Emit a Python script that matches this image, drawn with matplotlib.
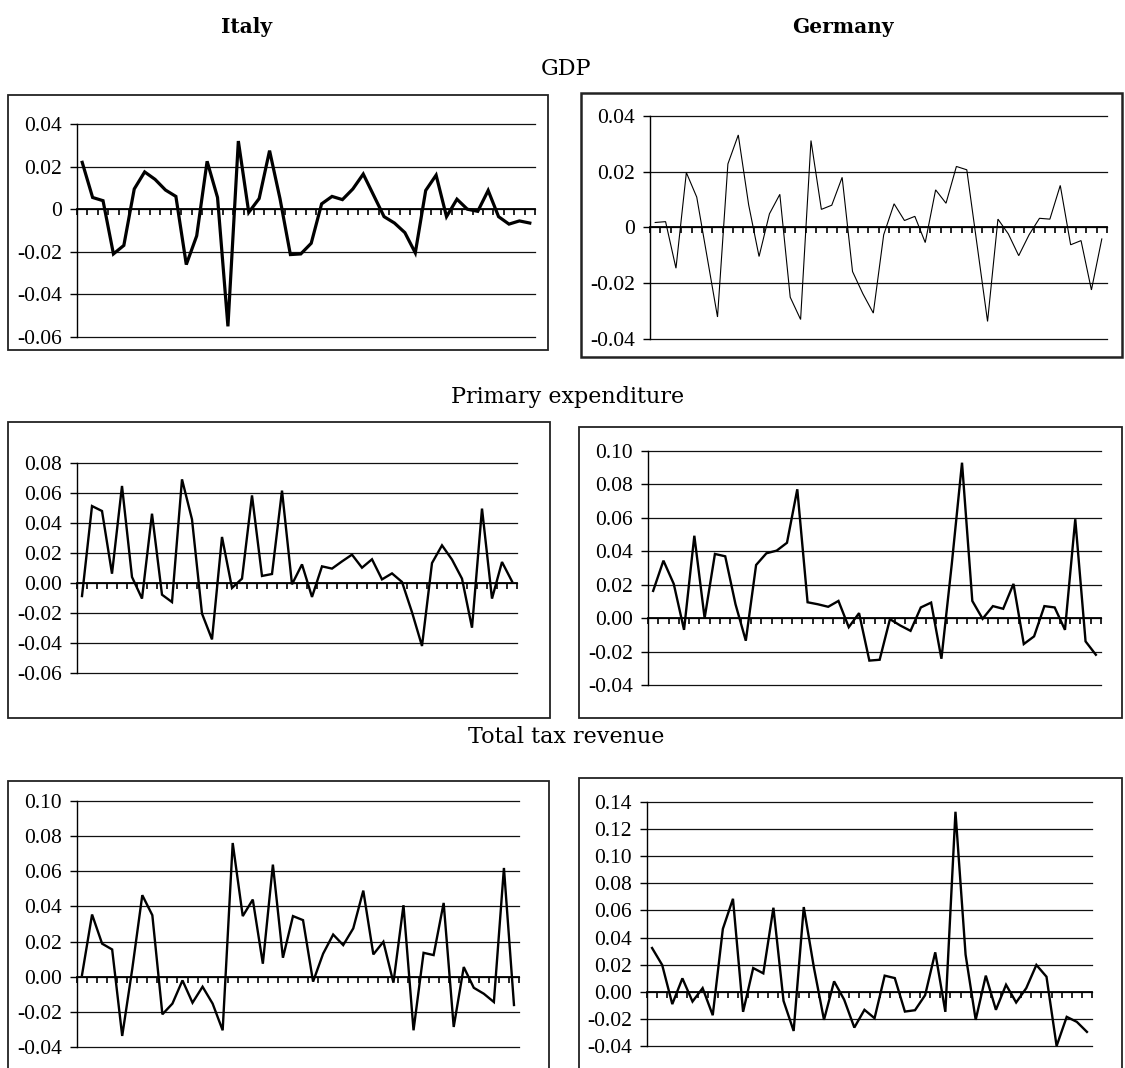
import numpy as np
import matplotlib
matplotlib.use("Agg")
import matplotlib.pyplot as plt
from matplotlib.patches import Rectangle
from matplotlib.ticker import FuncFormatter, MultipleLocator

# ── data (44 annual observations per series) ───────────────────────────────

italy_gdp = [0.022, 0.0055, 0.004, -0.021, -0.017, 0.0095, 0.0175, 0.014, 0.009, 0.006,
             -0.026, -0.0125, 0.0225, 0.0055, -0.055, 0.032, -0.0015, 0.005, 0.0275, 0.005,
             -0.0213, -0.021, -0.016, 0.0025, 0.006, 0.0045, 0.0095, 0.0165, 0.0065, -0.0035,
             -0.0065, -0.011, -0.0205, 0.0088, 0.016, -0.0035, 0.0047, 0.0, -0.001, 0.0088,
             -0.0035, -0.007, -0.0055, -0.0065]

germany_gdp = [0.0018, 0.0021, -0.0146, 0.0197, 0.0109, -0.0106, -0.0321, 0.0228, 0.0332, 0.0081,
               -0.0104, 0.0049, 0.0119, -0.025, -0.033, 0.0312, 0.0065, 0.008, 0.018, -0.0158,
               -0.0238, -0.0307, -0.0026, 0.0085, 0.0025, 0.004, -0.0054, 0.0135, 0.0087, 0.0219,
               0.0207, -0.0065, -0.0337, 0.003, -0.0023, -0.0101, -0.0026, 0.0033, 0.003, 0.0151,
               -0.0062, -0.0047, -0.0224, -0.0041]

italy_pe = [-0.0087, 0.0513, 0.048, 0.0062, 0.0647, 0.004, -0.0104, 0.0462, -0.0078, -0.0127,
            0.0691, 0.0424, -0.0204, -0.0376, 0.0307, -0.0033, 0.0029, 0.0584, 0.0047, 0.006,
            0.0616, -0.0009, 0.0124, -0.0093, 0.0111, 0.0096, 0.0144, 0.0189, 0.0102, 0.0158,
            0.0024, 0.0064, 0.0007, -0.0195, -0.042, 0.0133, 0.0251, 0.0156, 0.0029, -0.0298,
            0.0496, -0.0104, 0.014, 0.0011]

germany_pe = [0.0163, 0.0344, 0.0205, -0.007, 0.0493, 0.0, 0.0384, 0.037, 0.0083, -0.0135,
              0.0318, 0.0388, 0.0404, 0.0451, 0.0771, 0.0095, 0.0083, 0.0068, 0.0103, -0.0054,
              0.003, -0.0254, -0.0249, -0.0006, -0.0044, -0.0076, 0.0064, 0.0093, -0.0243, 0.032,
              0.093, 0.0103, -0.0004, 0.0072, 0.0056, 0.0205, -0.0155, -0.0109, 0.0072, 0.0064,
              -0.007, 0.0592, -0.0139, -0.0219]

italy_tax = [0.001, 0.0354, 0.0188, 0.0155, -0.0337, 0.0044, 0.0464, 0.035, -0.0214, -0.0153,
             -0.0021, -0.0148, -0.0057, -0.0153, -0.0305, 0.0761, 0.0345, 0.0439, 0.0074, 0.0638,
             0.0108, 0.0345, 0.0322, -0.0028, 0.0131, 0.024, 0.018, 0.0275, 0.049, 0.0127,
             0.0199, -0.0034, 0.0407, -0.0305, 0.0136, 0.0123, 0.042, -0.0286, 0.0055, -0.0063,
             -0.0097, -0.0144, 0.0619, -0.0161]

germany_tax = [0.0323, 0.0198, -0.0091, 0.0099, -0.0072, 0.0027, -0.0173, 0.0464, 0.0686, -0.0148,
               0.0175, 0.0136, 0.062, -0.0067, -0.0289, 0.0625, 0.018, -0.0207, 0.0077, -0.0059,
               -0.0264, -0.0133, -0.0195, 0.0119, 0.0101, -0.0146, -0.0136, -0.0025, 0.0291, -0.0148,
               0.1328, 0.0274, -0.0207, 0.0119, -0.0133, 0.0052, -0.0079, 0.0027, 0.0198, 0.0111,
               -0.04, -0.0185, -0.0222, -0.0296]

countries = ["Italy", "Germany"]
sections = ["GDP", "Primary expenditure", "Total tax revenue"]

# ── layout (pixels) ─────────────────────────────────────────────────────────

W, H = 1125, 1068
fig = plt.figure(figsize=(W / 100, H / 100), dpi=100)
fig.patch.set_facecolor("white")

TICK_FONT = "Liberation Serif"
TITLE_FONT = "DejaVu Serif"


def _fx(x):
    return x / W


def _fy(y):
    return 1 - y / H


def _frame(l, t, r, b, lw=1.3):
    fig.add_artist(Rectangle((_fx(l), _fy(b)), (r - l) / W, (b - t) / H,
                             transform=fig.transFigure, fill=False,
                             edgecolor="#222222", linewidth=lw, clip_on=False))


def _fmt_gdp(v, _=None):
    if abs(v) < 1e-9:
        return "0"
    return f"{v:.2f}"


def _fmt_2(v, _=None):
    if abs(v) < 1e-9:
        return "0.00"
    return f"{v:.2f}"


def _panel(box, values, ylim, fmt, lw):
    l, t, r, b = box
    ax = fig.add_axes([_fx(l), _fy(b), (r - l) / W, (b - t) / H])
    x = np.arange(len(values))
    ax.plot(x, values, color="black", linewidth=lw, solid_joinstyle="miter",
            zorder=3, clip_on=False)
    ax.set_xlim(-0.5, len(values) - 0.5)
    ax.set_ylim(*ylim)
    ax.yaxis.set_major_locator(MultipleLocator(0.02))
    ax.yaxis.set_major_formatter(FuncFormatter(fmt))
    ax.set_xticks(np.arange(len(values) + 1) - 0.5)
    ax.set_xticklabels([])
    ax.grid(axis="y", color="#111111", linewidth=0.9, zorder=1)
    ax.set_axisbelow(True)
    # keep the top/bottom gridlines fully drawn at the axis edges
    for gl in ax.get_ygridlines():
        gl.set_clip_on(False)
    for side in ("top", "right"):
        ax.spines[side].set_visible(False)
    ax.spines["left"].set_linewidth(1.0)
    ax.spines["bottom"].set_position(("data", 0))
    ax.spines["bottom"].set_linewidth(1.3)
    ax.tick_params(axis="y", direction="out", length=5, width=1.0, pad=6,
                   labelsize=15.5)
    ax.tick_params(axis="x", direction="out", length=4.5, width=1.2)
    for lab in ax.get_yticklabels():
        lab.set_fontfamily(TICK_FONT)
    ax.patch.set_alpha(0)
    return ax


# column headers and section titles
fig.text(_fx(247), _fy(27), countries[0], ha="center", va="center",
         fontsize=14.5, fontweight="bold", family=TITLE_FONT)
fig.text(_fx(843), _fy(27), countries[1], ha="center", va="center",
         fontsize=14.5, fontweight="bold", family=TITLE_FONT)
fig.text(_fx(566), _fy(69), sections[0], ha="center", va="center",
         fontsize=16, family=TITLE_FONT)
fig.text(_fx(568), _fy(397), sections[1], ha="center", va="center",
         fontsize=16, family=TITLE_FONT)
fig.text(_fx(566), _fy(737), sections[2], ha="center", va="center",
         fontsize=16, family=TITLE_FONT)

# frames
_frame(8, 95, 548, 350)
_frame(581, 93, 1122, 357, lw=1.8)
_frame(8, 422, 550, 718)
_frame(579, 427, 1122, 718)
_frame(8, 781, 549, 1080)
_frame(579, 778, 1122, 1080)

# panels
_panel((77, 124, 535, 337), italy_gdp, (-0.06, 0.04), _fmt_gdp, 2.3)
_panel((650, 116, 1107, 339), germany_gdp, (-0.04, 0.04), _fmt_gdp, 0.8)
_panel((77, 463, 517, 673), italy_pe, (-0.06, 0.08), _fmt_2, 1.7)
_panel((648, 451, 1101, 685), germany_pe, (-0.04, 0.10), _fmt_2, 1.7)
_panel((77, 801, 519, 1047), italy_tax, (-0.04, 0.10), _fmt_2, 1.7)
_panel((647, 802, 1092, 1046), germany_tax, (-0.04, 0.14), _fmt_2, 1.7)

fig.savefig("out.png", dpi=100, facecolor="white")
